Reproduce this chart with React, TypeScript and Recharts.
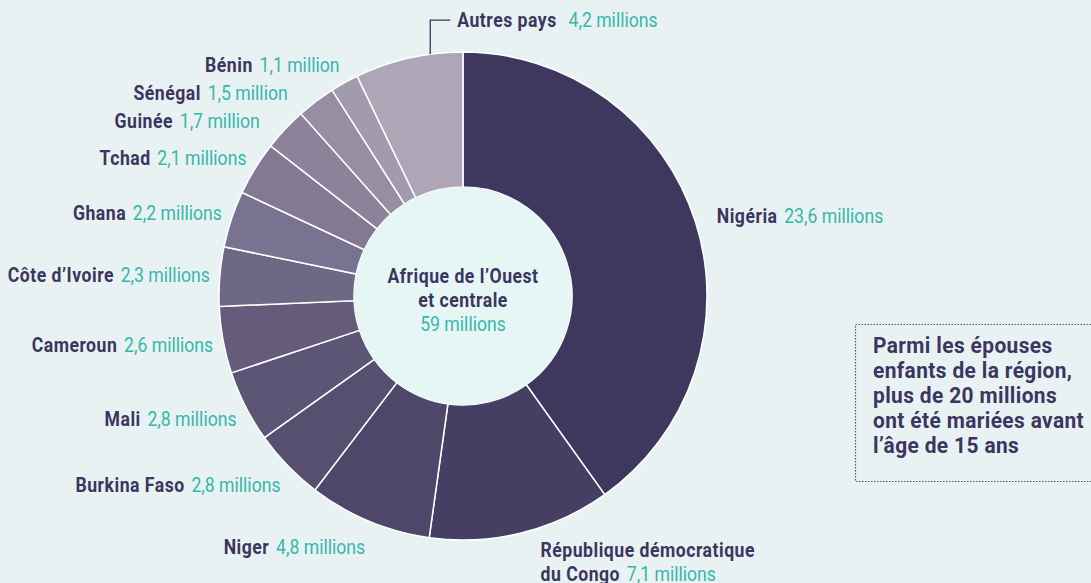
import React from 'react';
import { PieChart, Pie, Cell } from 'recharts';

const countries = [
  'Nigéria',
  'République démocratique\ndu Congo',
  'Niger',
  'Burkina Faso',
  'Mali',
  'Cameroun',
  'Côte d’Ivoire',
  'Ghana',
  'Tchad',
  'Guinée',
  'Sénégal',
  'Bénin',
  'Autres pays',
];
const millions = [23.6, 7.1, 4.8, 2.8, 2.8, 2.6, 2.3, 2.2, 2.1, 1.7, 1.5, 1.1, 4.2];
const valueLabels = [
  '23,6 millions', '7,1 millions', '4,8 millions', '2,8 millions', '2,8 millions',
  '2,6 millions', '2,3 millions', '2,2 millions', '2,1 millions', '1,7 million',
  '1,5 million', '1,1 million', '4,2 millions',
];
const sliceColors = [
  '#3e385e', '#463f64', '#4f4769', '#564f70', '#5d5576', '#655c7c', '#6f6884',
  '#797290', '#827a92', '#8b8399', '#968ea2', '#a29aad', '#aea6b6',
];
const centerLines = ['Afrique de l’Ouest', 'et centrale'];
const centerValue = '59 millions';
const noteLines = [
  'Parmi les épouses',
  'enfants de la région,',
  'plus de 20 millions',
  'ont été mariées avant',
  'l’âge de 15 ans',
];

const data = countries.map((name, i) => ({ name, value: millions[i], label: valueLabels[i] }));

const W = 1091;
const H = 583;
const CX = 463;
const CY = 296;
const OUTER = 244;
const INNER = 109;
const DARK = '#3b3560';
const TEAL = '#36b7ab';
const BG = '#e9f2f3';
const FONT = 'Roboto, "Open Sans", sans-serif';
const SX = 0.84;
const FS = 21;
const RAD = Math.PI / 180;
const START = 90;
const END = -270;

// label layout: radial anchor, lower-left pushed down, crowded upper-left spread outward
function labelLayout(cx: number, cy: number, outerRadius: number) {
  const total = millions.reduce((a, b) => a + b, 0);
  let cum = 0;
  const pts = millions.map((v) => {
    const mid = START + ((END - START) * (cum + v / 2)) / total;
    cum += v;
    const c = Math.cos(-mid * RAD);
    const s = Math.sin(-mid * RAD);
    const left = c < 0;
    let y = cy + (outerRadius + (left ? 20 : 18)) * s;
    if (left && s > 0) y += 8 * s;
    return { c, s, left, y, pushed: false };
  });
  const leftIdx = pts
    .filter((p, i) => p.left && i < pts.length - 1)
    .sort((a, b) => a.y - b.y);
  for (let k = 1; k < leftIdx.length; k++) {
    const prev = leftIdx[k - 1];
    const cur = leftIdx[k];
    if (cur.y < prev.y + 28) {
      cur.y = prev.y + 28;
      cur.pushed = true;
    }
  }
  const circ = (r: number, dy: number) => Math.sqrt(Math.max(0, r * r - dy * dy));
  return pts.map((p) => {
    const radialX = cx + (outerRadius + 10) * p.c;
    const dy = p.y - cy;
    let x = radialX;
    if (p.left && p.pushed) x = Math.min(radialX, cx - circ(outerRadius + 24, dy));
    if (!p.left) x = Math.max(radialX, cx + circ(outerRadius + 22, dy));
    return { x, y: p.y, anchor: p.left ? 'end' : 'start' };
  });
}

function LabelText({ x, y, anchor, name, value, gap = 8 }: any) {
  const lines = String(name).split('\n');
  return (
    <g transform={`translate(${x},${y}) scale(${SX},1)`}>
      {lines.map((ln, li) => (
        <text key={li} x={0} y={li * 24} textAnchor={anchor} fontFamily={FONT} fontSize={FS}>
          <tspan fontWeight={700} fill={DARK} letterSpacing={0.6}>{ln}</tspan>
          {li === lines.length - 1 ? (
            <tspan fill={TEAL} dx={gap}>{value}</tspan>
          ) : null}
        </text>
      ))}
    </g>
  );
}

function renderLabel(props: any) {
  const { cx, cy, midAngle, outerRadius, index, startAngle, endAngle } = props;
  const entry = data[index];
  if (index === data.length - 1) {
    const sa = typeof startAngle === 'number' ? startAngle : midAngle;
    const ea = typeof endAngle === 'number' ? endAngle : midAngle;
    const a = sa + 0.7 * (ea - sa);
    const px = cx + outerRadius * Math.cos(-a * RAD);
    const py = cy + outerRadius * Math.sin(-a * RAD);
    const topY = py - 34;
    return (
      <g key={`lab-${index}`}>
        <polyline
          points={`${px},${py} ${px},${topY} ${px + 20},${topY}`}
          fill="none"
          stroke={DARK}
          strokeWidth={1.3}
        />
        <LabelText x={px + 27} y={topY + 7} anchor="start" name={entry.name} value={entry.label} gap={14} />
      </g>
    );
  }
  const lay = labelLayout(cx, cy, outerRadius)[index];
  return (
    <LabelText
      key={`lab-${index}`}
      x={lay.x}
      y={lay.y + 7}
      anchor={lay.anchor}
      name={entry.name}
      value={entry.label}
    />
  );
}

export default function App() {
  return (
    <div style={{ position: 'absolute', left: 0, top: 0, width: W, height: H, background: BG, overflow: 'hidden' }}>
      <PieChart width={W} height={H} margin={{ top: 0, right: 0, bottom: 0, left: 0 }}>
        <Pie
          data={data}
          dataKey="value"
          nameKey="name"
          cx={CX}
          cy={CY}
          innerRadius={INNER}
          outerRadius={OUTER}
          startAngle={START}
          endAngle={END}
          stroke="#ffffff"
          strokeWidth={1.5}
          label={renderLabel}
          labelLine={false}
          isAnimationActive={false}
        >
          {data.map((d, i) => (
            <Cell key={d.name} fill={sliceColors[i]} />
          ))}
        </Pie>
        <Pie
          data={[{ name: 'centre', value: 1 }]}
          dataKey="value"
          cx={CX}
          cy={CY}
          innerRadius={0}
          outerRadius={INNER}
          fill="#e6f6f5"
          stroke="none"
          isAnimationActive={false}
        />
      </PieChart>
      <svg width={W} height={H} style={{ position: 'absolute', left: 0, top: 0, pointerEvents: 'none' }}>
        <g transform={`translate(${CX},0) scale(${SX},1)`}>
          {centerLines.map((t, i) => (
            <text key={t} x={0} y={283 + i * 24} textAnchor="middle" fontFamily={FONT} fontSize={FS} fontWeight={700} fill={DARK} letterSpacing={0.6}>
              {t}
            </text>
          ))}
          <text x={0} y={331} textAnchor="middle" fontFamily={FONT} fontSize={FS} fill={TEAL}>
            {centerValue}
          </text>
        </g>
        <rect x={855.5} y={324.5} width={260} height={157} fill="none" stroke="#555" strokeWidth={1.2} strokeDasharray="1.5 1.5" />
        <g transform="translate(873,0) scale(0.93,1)">
          {noteLines.map((t, i) => (
            <text key={t} x={0} y={353 + i * 25} fontFamily={FONT} fontSize={22.5} fontWeight={700} fill={DARK} letterSpacing={0.4}>
              {t}
            </text>
          ))}
        </g>
      </svg>
    </div>
  );
}
